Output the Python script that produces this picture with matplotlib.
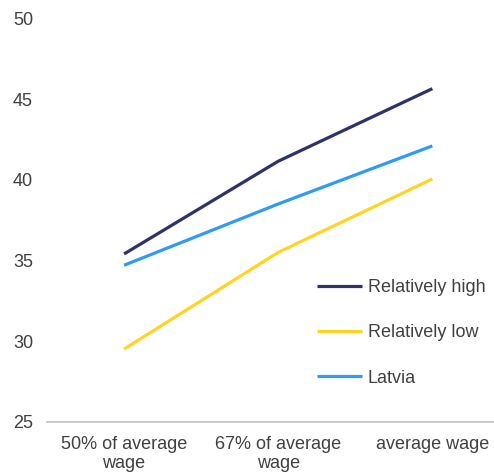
import matplotlib
matplotlib.use("Agg")
import matplotlib.pyplot as plt

categories = ["50% of average\nwage", "67% of average\nwage", "average wage"]
relatively_high = [35.4, 41.15, 45.65]
relatively_low = [29.5, 35.5, 40.05]
latvia = [34.7, 38.5, 42.1]
y_ticks = [25, 30, 35, 40, 45, 50]

plt.rcParams['font.family'] = ['Liberation Sans', 'DejaVu Sans']

fig = plt.figure(figsize=(4.94, 4.75), dpi=100)
ax = fig.add_axes([47/494, 53.3/475, 1 - 47/494, (421.7 - 18.5)/475])

x = range(len(categories))
lw = 2.3
ax.plot(x, relatively_high, color="#2E3266", lw=lw, label="Relatively high", solid_capstyle='butt')
ax.plot(x, relatively_low, color="#FFD424", lw=lw, label="Relatively low", solid_capstyle='butt')
ax.plot(x, latvia, color="#2F9BF4", lw=lw, label="Latvia", solid_capstyle='butt')

ax.set_xlim(-0.5, 2.40)
ax.set_ylim(25, 50)
ax.set_yticks(y_ticks)
ax.set_xticks(list(x))
ax.set_xticklabels(categories, linespacing=1.18)
for s in ["top", "right", "left"]:
    ax.spines[s].set_visible(False)
ax.spines["bottom"].set_color("#BFBFBF")
ax.spines["bottom"].set_linewidth(1.2)
ax.tick_params(axis="both", length=0, labelsize=13, colors="#404040")
ax.tick_params(axis="y", pad=10)
ax.tick_params(axis="x", pad=10)

leg = ax.legend(loc="upper left", bbox_to_anchor=(317/494, 1 - 279/475),
                bbox_transform=fig.transFigure, frameon=False, fontsize=13,
                handlelength=2.5, handletextpad=0.3, labelspacing=1.57,
                borderpad=0, borderaxespad=0)
for t in leg.get_texts():
    t.set_color("#404040")

fig.savefig("out.png", dpi=100)
